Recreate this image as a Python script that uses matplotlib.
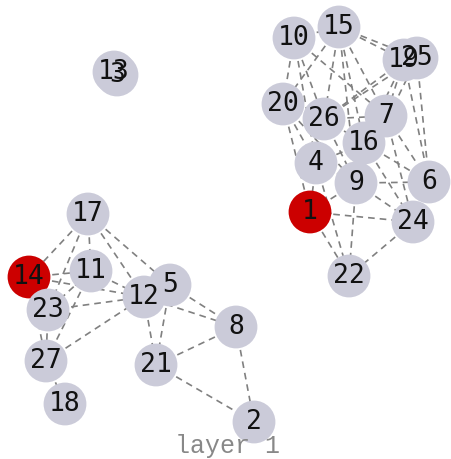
import matplotlib
matplotlib.use("Agg")
import matplotlib.pyplot as plt

# node layout (pixel positions)
nodes = ["1", "2", "3", "4", "5", "6", "7", "8", "9", "10", "11", "12", "13", "14",
         "15", "16", "17", "18", "19", "20", "21", "22", "23", "24", "25", "26", "27"]
xs = [310, 254, 117, 316, 170, 429, 386, 236, 356, 294, 91, 144, 114, 29,
      339, 364, 88, 65, 404, 283, 156, 349, 48, 413, 417, 324, 46]
ys = [212, 422, 75, 163, 285, 182, 116, 327, 183, 38, 271, 297, 72, 277,
      27, 143, 214, 404, 60, 104, 365, 276, 310, 222, 58, 119, 361]
highlight = ["1", "14"]

edges = [
    # left group
    ("17", "14"), ("17", "11"), ("17", "23"), ("17", "12"), ("17", "5"),
    ("14", "11"), ("14", "12"), ("14", "23"), ("11", "23"), ("11", "27"),
    ("11", "12"), ("23", "12"), ("23", "27"), ("14", "27"), ("27", "18"),
    ("27", "12"), ("12", "5"), ("12", "21"), ("12", "8"), ("5", "21"),
    ("5", "8"), ("8", "2"), ("8", "21"), ("21", "2"),
    # right group
    ("10", "15"), ("10", "20"), ("10", "26"), ("10", "7"), ("10", "4"),
    ("15", "19"), ("15", "25"), ("15", "26"), ("15", "16"), ("15", "7"),
    ("15", "20"), ("15", "9"), ("19", "25"), ("19", "7"), ("19", "26"),
    ("19", "16"), ("19", "6"), ("25", "6"), ("25", "9"), ("25", "26"),
    ("20", "26"), ("20", "4"), ("20", "1"), ("20", "9"), ("26", "7"),
    ("26", "16"), ("26", "4"), ("26", "9"), ("7", "16"), ("7", "9"),
    ("7", "24"), ("7", "6"), ("16", "4"), ("16", "9"), ("16", "6"),
    ("16", "24"), ("4", "1"), ("4", "9"), ("4", "22"), ("9", "1"),
    ("9", "6"), ("9", "24"), ("9", "22"), ("1", "24"), ("1", "22"),
    ("24", "22"), ("24", "6"),
]

pos = {n: (x, y) for n, x, y in zip(nodes, xs, ys)}

fig = plt.figure(figsize=(4.52, 4.59), dpi=100)
ax = fig.add_axes([0, 0, 1, 1])
ax.set_xlim(0, 452)
ax.set_ylim(459, 0)
ax.axis("off")

for a, b in edges:
    ax.plot([pos[a][0], pos[b][0]], [pos[a][1], pos[b][1]], color="#808080",
            lw=1.2, ls=(0, (4, 3)), zorder=1)

cols = ["#cc0000" if n in highlight else "#cbcbd9" for n in nodes]
ax.scatter(xs, ys, s=950, c=cols, linewidths=0, zorder=2)

for n, x, y in zip(nodes, xs, ys):
    ax.text(x, y, n, ha="center", va="center", fontsize=19,
            family="DejaVu Sans Mono", color="#111111", zorder=3)

ax.text(228, 446, "layer 1", ha="center", va="center", fontsize=18,
        family="Liberation Mono", color="#888888", zorder=4)

fig.savefig("out.png", dpi=100)
